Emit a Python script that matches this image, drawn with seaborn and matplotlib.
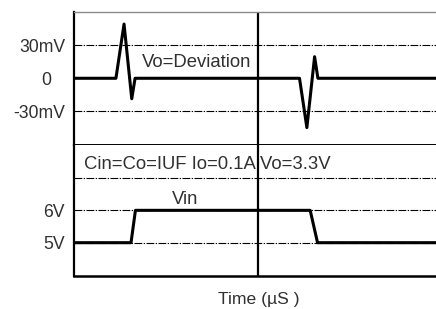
import matplotlib
matplotlib.use("Agg")
import matplotlib.pyplot as plt
import seaborn as sns
import pandas as pd

# ---- data (time in µs) ----
t_vo = [0.0, 1.14, 1.36, 1.57, 1.66, 6.13, 6.33, 6.54, 6.63, 9.84]
vo_mv = [0, 0, 49, -18.5, 0, 0, -44.6, 19.5, 0, 0]
t_vin = [0.0, 1.55, 1.67, 6.42, 6.62, 9.84]
vin_v = [5, 5, 6, 6, 5, 5]
vo_ref_mv = [30, -30]
vo_ticks = [30, 0, -30]
vo_tick_labels = ["30mV", "0", "-30mV"]
vin_ref_v = [7, 6, 5]
vin_ticks = [6, 5]
vin_tick_labels = ["6V", "5V"]
t_mark = 5.0

sns.set_theme(style="white")
plt.rcParams['font.family'] = ['Liberation Sans', 'DejaVu Sans']

TXT = '#303030'
FS = 12.7
FS_IN = 13.3
dash = (0, (7, 1.3, 1.2, 1.3))

fig = plt.figure(figsize=(4.36, 3.09), dpi=100)
ax1 = fig.add_axes([74/436, 164/309, 362/436, 133/309])
ax2 = fig.add_axes([74/436, 33/309, 362/436, 131/309])

df_vo = pd.DataFrame({"t": t_vo, "v": vo_mv})
df_vin = pd.DataFrame({"t": t_vin, "v": vin_v})

for y in vo_ref_mv:
    ax1.axhline(y, color='black', lw=0.8, ls=dash, zorder=1)
for y in vin_ref_v:
    ax2.axhline(y, color='black', lw=0.8, ls=dash, zorder=1)

sns.lineplot(data=df_vo, x="t", y="v", ax=ax1, color='black', lw=2.2,
             estimator=None, sort=False, zorder=3)
sns.lineplot(data=df_vin, x="t", y="v", ax=ax2, color='black', lw=2.2,
             estimator=None, sort=False, zorder=3)

for ax in (ax1, ax2):
    ax.set_xlim(0, 9.84)
    ax.axvline(t_mark, color='black', lw=1.6, zorder=2)
    ax.set_xticks([])
    ax.set_xlabel("")
    ax.set_ylabel("")
    ax.spines['right'].set_visible(False)
    ax.spines['left'].set_color('black')
    ax.spines['left'].set_linewidth(1.6)
    ax.tick_params(axis='y', length=0, labelsize=FS, labelcolor=TXT, pad=6.5)
    ax.set_facecolor('white')

ax1.set_ylim(-60.3, 59.9)
ax2.set_ylim(3.97, 8.02)

ax1.spines['top'].set_color('#8a8a8a')
ax1.spines['top'].set_linewidth(1.0)
ax1.spines['bottom'].set_color('black')
ax1.spines['bottom'].set_linewidth(1.4)
ax2.spines['top'].set_visible(False)
ax2.spines['bottom'].set_color('black')
ax2.spines['bottom'].set_linewidth(1.8)

ax1.set_yticks(vo_ticks)
ax1.set_yticklabels(vo_tick_labels)
ax2.set_yticks(vin_ticks)
ax2.set_yticklabels(vin_tick_labels)
# the "0" label sits further left in the reference
ax1.yaxis.get_major_ticks()[1].set_pad(16.5)

ax1.text(1.85, 10.2, "Vo=Deviation", fontsize=FS_IN, color=TXT, va='baseline', ha='left')
ax2.text(0.28, 7.27, "Cin=Co=IUF Io=0.1A Vo=3.3V", fontsize=FS_IN, color=TXT,
         va='baseline', ha='left')
ax2.text(2.66, 6.19, "Vin", fontsize=FS_IN, color=TXT, va='baseline', ha='left')

fig.text(259/436, (309-304)/309, "Time (µS )", fontsize=12.6, color=TXT,
         ha='center', va='baseline')

fig.savefig("out.png", dpi=100, facecolor='white')
